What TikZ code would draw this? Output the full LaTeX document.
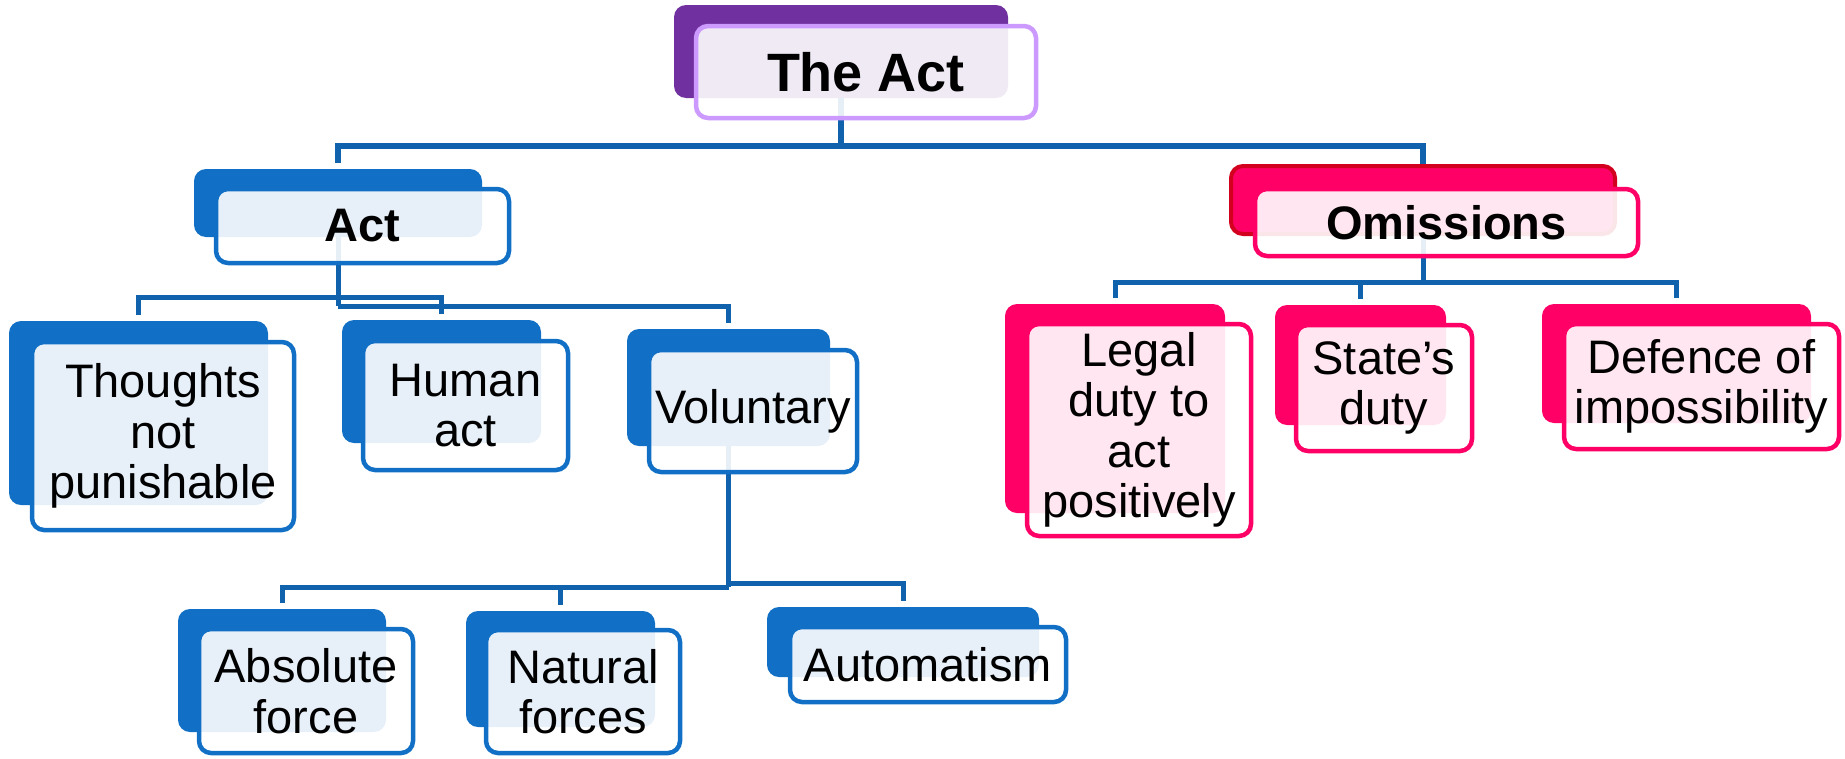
\documentclass[tikz,border=0pt]{standalone}
\usepackage{fontspec}
\setmainfont{Liberation Sans}
\definecolor{purpD}{RGB}{112,48,160}
\definecolor{purpL}{RGB}{204,153,255}
\definecolor{blueD}{RGB}{17,112,197}
\definecolor{pinkD}{RGB}{255,0,102}
\definecolor{redB}{RGB}{210,0,30}
\definecolor{connC}{RGB}{16,98,172}
\begin{document}
\begin{tikzpicture}[x=1pt,y=-1pt,
  back/.style={rectangle, rounded corners=12pt, inner sep=0pt, outer sep=0pt},
  bback/.style={back, fill=blueD},
  pback/.style={back, fill=pinkD},
  front/.style={rectangle, rounded corners=12pt, inner sep=0pt, outer sep=0pt,
    fill=white, fill opacity=0.9, text opacity=1, line width=4.5pt, align=center,
    font=\fontsize{47}{50.5}\selectfont},
  bfront/.style={front, draw=blueD},
  pfront/.style={front, draw=pinkD},
  link/.style={draw=connC, line width=5pt},
]
\useasboundingbox (0,0) rectangle (1845,758);

% back boxes
\node[back, fill=purpD, minimum width=334, minimum height=93] (taB) at (841,51.5) {};
\node[bback, minimum width=288, minimum height=68] (actB) at (338,203) {};
\node[pback, draw=redB, line width=4pt, minimum width=384, minimum height=68] (omB) at (1423,200) {};
\node[bback, minimum width=259, minimum height=184] (thB) at (138.5,413) {};
\node[bback, minimum width=199, minimum height=123] (huB) at (441.5,381.5) {};
\node[bback, minimum width=203, minimum height=117] (voB) at (728.5,387.5) {};
\node[pback, minimum width=220, minimum height=209] (leB) at (1115,408.5) {};
\node[pback, minimum width=171, minimum height=120] (stB) at (1360.5,365) {};
\node[pback, minimum width=269, minimum height=119] (deB) at (1676.5,363.5) {};
\node[bback, minimum width=208, minimum height=123] (abB) at (282,670.5) {};
\node[bback, minimum width=189, minimum height=116] (naB) at (560.5,669) {};
\node[bback, minimum width=272, minimum height=70] (auB) at (903,642) {};

% connectors
\coordinate (h0) at (0,146);
\coordinate (h1) at (0,297);
\coordinate (h2) at (0,306);
\coordinate (h3) at (0,282);
\coordinate (h4) at (0,587);
\coordinate (h5) at (0,583);
\draw[link, line width=5.5pt] (taB.south) -- (taB.south |- h0) -| ([yshift=6pt]actB.north);
\draw[link, line width=5.5pt] (taB.south |- h0) -| ([yshift=2pt]omB.north);
\draw[link] (actB.south) -- (actB.south |- h2);
\draw[link] (actB.south |- h1) -| ([yshift=6pt]thB.north);
\draw[link] (actB.south |- h1) -| ([yshift=6pt]huB.north);
\draw[link] (actB.south |- h2) -| ([yshift=6pt]voB.north);
\draw[link] ([yshift=-2pt]omB.south) -- (omB.south |- h3);
\draw[link] (omB.south |- h3) -| ([yshift=6pt]leB.north);
\draw[link] (omB.south |- h3) -| ([yshift=6pt]stB.north);
\draw[link] (omB.south |- h3) -| ([yshift=6pt]deB.north);
\draw[link] (voB.south) -- (voB.south |- h4);
\draw[link] (voB.south |- h4) -| ([yshift=6pt]abB.north);
\draw[link] (voB.south |- h4) -| ([yshift=6pt]naB.north);
\draw[link] (voB.south |- h5) -| ([yshift=6pt]auB.north);

% front boxes
\node[front, draw=purpL, minimum width=340, minimum height=92,
  font=\fontsize{54}{56}\selectfont\bfseries] (taF) at (866,72) {The Act};
\node[bfront, minimum width=293, minimum height=74, font=\fontsize{47}{49}\selectfont\bfseries] (actF) at (362.5,226) {Act};
\node[pfront, minimum width=383, minimum height=67, font=\fontsize{47}{49}\selectfont\bfseries] (omF) at (1446.5,222.5) {Omissions};
\node[bfront, minimum width=262, minimum height=188] (thF) at (163,436) {Thoughts\\not\\punishable};
\node[bfront, minimum width=205, minimum height=129] (huF) at (465.5,405.5) {Human\\act};
\node[bfront, minimum width=208, minimum height=122] (voF) at (753,411) {Voluntary};
\node[pfront, minimum width=224, minimum height=212] (leF) at (1139,430) {Legal\\duty to\\act\\positively};
\node[pfront, minimum width=176, minimum height=126] (stF) at (1384,388) {State’s\\duty};
\node[pfront, minimum width=275, minimum height=125] (deF) at (1701.5,386.5) {Defence of\\impossibility};
\node[bfront, minimum width=214, minimum height=124] (abF) at (306,691) {Absolute\\force};
\node[bfront, minimum width=194, minimum height=123] (naF) at (583,691.5) {Natural\\forces};
\node[bfront, minimum width=276, minimum height=75] (auF) at (928,664.5) {Automatism};
\end{tikzpicture}
\end{document}
